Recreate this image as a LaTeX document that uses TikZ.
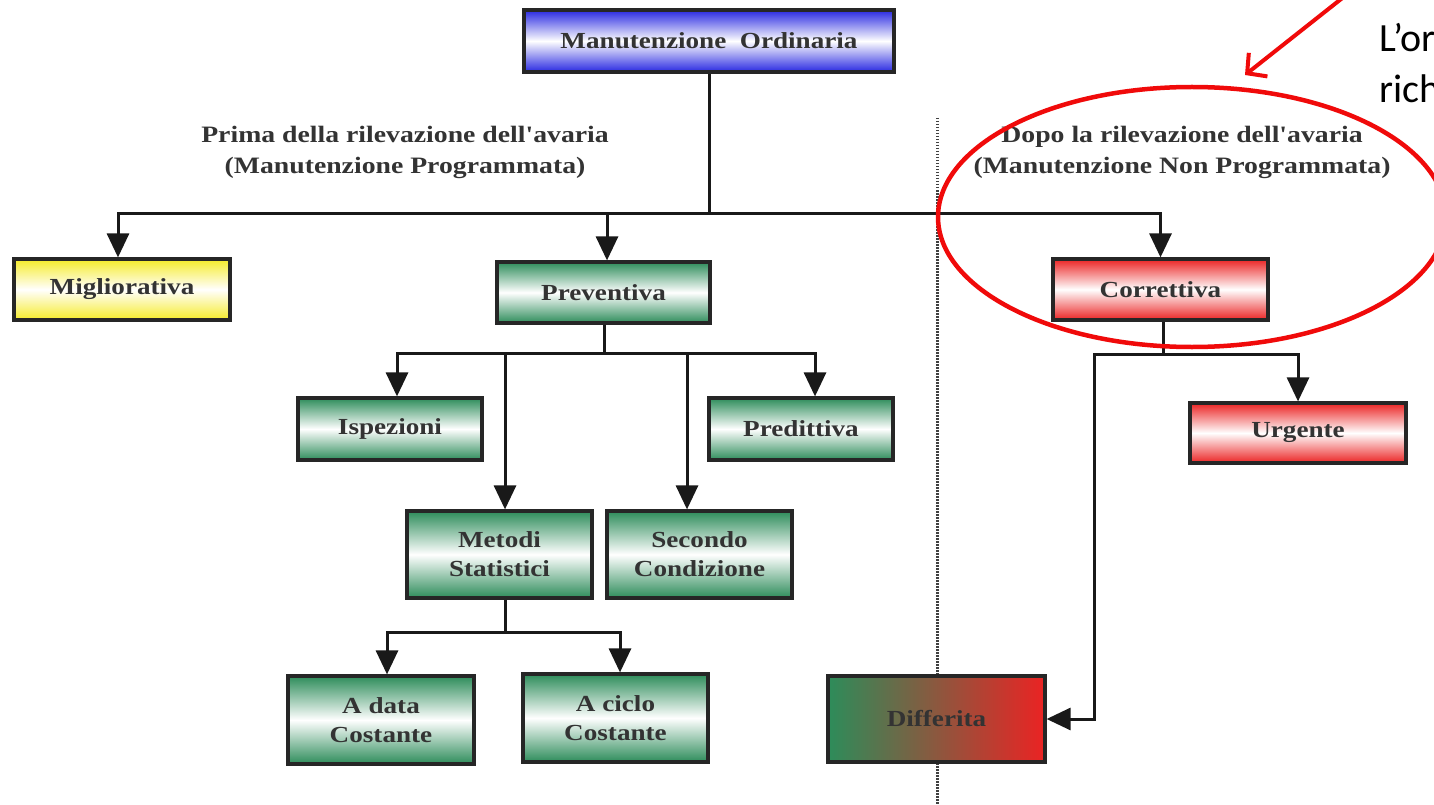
\documentclass[tikz,border=0pt]{standalone}
\usepackage{fontspec}
\setmainfont{Liberation Serif}
\newfontfamily\boxfont[FakeStretch=1.18]{Liberation Serif}
\newfontfamily\slidefont{Carlito}
\usetikzlibrary{arrows.meta}

\definecolor{mblue}{RGB}{40,40,225}
\definecolor{mgreen}{RGB}{45,140,90}
\definecolor{mred}{RGB}{235,35,35}
\definecolor{myellow}{RGB}{245,235,40}
\definecolor{markred}{RGB}{240,10,10}

\begin{document}
\begin{tikzpicture}[x=1pt,y=-1pt,
    box/.style={draw=black!85,line width=3.2pt,inner sep=0pt,align=center,
      text=black!80,font=\boxfont\fontsize{23}{29}\selectfont\bfseries},
    bluebox/.style={box,top color=mblue,bottom color=mblue,middle color=white},
    greenbox/.style={box,top color=mgreen,bottom color=mgreen,middle color=white},
    redbox/.style={box,top color=mred,bottom color=mred,middle color=white},
    yellowbox/.style={box,top color=myellow,bottom color=myellow,middle color=white},
    arr/.style={-{Triangle[length=24pt,width=22pt]},line width=3pt,draw=black!90},
    link/.style={line width=3pt,draw=black!90},
    note/.style={align=center,text=black!80,font=\boxfont\fontsize{23.5}{31}\selectfont\bfseries}]
    \path[use as bounding box,clip] (0,0) rectangle (1434,805);
    \fill[white] (0,0) rectangle (1434,805);

    % left / right of the failure
    \draw[black!75,line width=3pt,dash pattern=on 1.5pt off 1.5pt] (937,118) -- (937,805);

    \node[bluebox,minimum width=370pt,minimum height=62pt] (ordinaria) at (709,41) {Manutenzione\ \ Ordinaria};
    \node[note] (prima) at (405,152) {Prima della rilevazione dell'avaria\\(Manutenzione Programmata)};
    \node[note] (dopo) at (1182,152) {Dopo la rilevazione dell'avaria\\(Manutenzione Non Programmata)};

    \node[yellowbox,minimum width=216pt,minimum height=61pt] (migliorativa) at (122,289.5) {Migliorativa};
    \node[greenbox,minimum width=213pt,minimum height=61pt] (preventiva) at (603.5,292.5) {Preventiva};
    \node[redbox,minimum width=215pt,minimum height=61pt] (correttiva) at (1160.5,289.5) {Correttiva};

    \node[greenbox,minimum width=184pt,minimum height=62pt] (ispezioni) at (390,429) {Ispezioni};
    \node[greenbox,minimum width=184pt,minimum height=62pt] (predittiva) at (801,429) {Predittiva};
    \node[greenbox,minimum width=185pt,minimum height=87pt] (metodi) at (499.5,554.5) {Metodi\\Statistici};
    \node[greenbox,minimum width=185pt,minimum height=87pt] (secondo) at (699.5,554.5) {Secondo\\Condizione};
    \node[greenbox,minimum width=186pt,minimum height=88pt] (adata) at (381,720) {A data\\Costante};
    \node[greenbox,minimum width=185pt,minimum height=88pt] (aciclo) at (615.5,718) {A ciclo\\Costante};

    \node[redbox,minimum width=216pt,minimum height=60pt] (urgente) at (1298,433) {Urgente};
    \node[box,left color=mgreen,right color=mred,minimum width=217pt,minimum height=86pt] (differita) at (936.5,719) {Differita};

    % branch points
    \coordinate (j1) at (709,213);
    \coordinate (j2) at (604,353);
    \coordinate (j3) at (505,632);
    \coordinate (j4) at (1163,354);

    \draw[link] (ordinaria.south -| j1) -- (j1);
    \draw[arr] (j1) -| ([xshift=-4pt]migliorativa.north);
    \draw[arr] (j1) -| ([xshift=3.5pt]preventiva.north);
    \draw[arr] (j1) -| (correttiva.north);

    \draw[link] (preventiva.south -| j2) -- (j2);
    \draw[arr] (j2) -| ([xshift=7pt]ispezioni.north);
    \draw[arr] (j2) -| ([xshift=14pt]predittiva.north);
    \draw[arr] (j2) -| ([xshift=5.5pt]metodi.north);
    \draw[arr] (j2) -| ([xshift=-12.5pt]secondo.north);

    \draw[link] (metodi.south -| j3) -- (j3);
    \draw[arr] (j3) -| ([xshift=6pt]adata.north);
    \draw[arr] (j3) -| ([xshift=4.5pt]aciclo.north);

    \draw[link] (correttiva.south -| j4) -- (j4);
    \draw[arr] (j4) -| (urgente.north);
    \draw[arr] (j4) -| ([xshift=48pt]differita.east) -- (differita.east);

    % slide overlay
    \draw[markred,line width=4.5pt] (1192,217) ellipse [x radius=254pt,y radius=130pt];
    \coordinate (from) at (1355,-12);
    \coordinate (tip) at (1245,75);
    \draw[markred,line width=4pt,-{Straight Barb[length=14pt,width=30pt]}] (from) -- (tip);
    \node[anchor=base west,inner sep=0pt,font=\slidefont\fontsize{40}{48}\selectfont] (riga1) at (1379,52) {L’or};
    \node[anchor=base west,inner sep=0pt,font=\slidefont\fontsize{40}{48}\selectfont] (riga2) at (1379,103) {rich};
\end{tikzpicture}
\end{document}
